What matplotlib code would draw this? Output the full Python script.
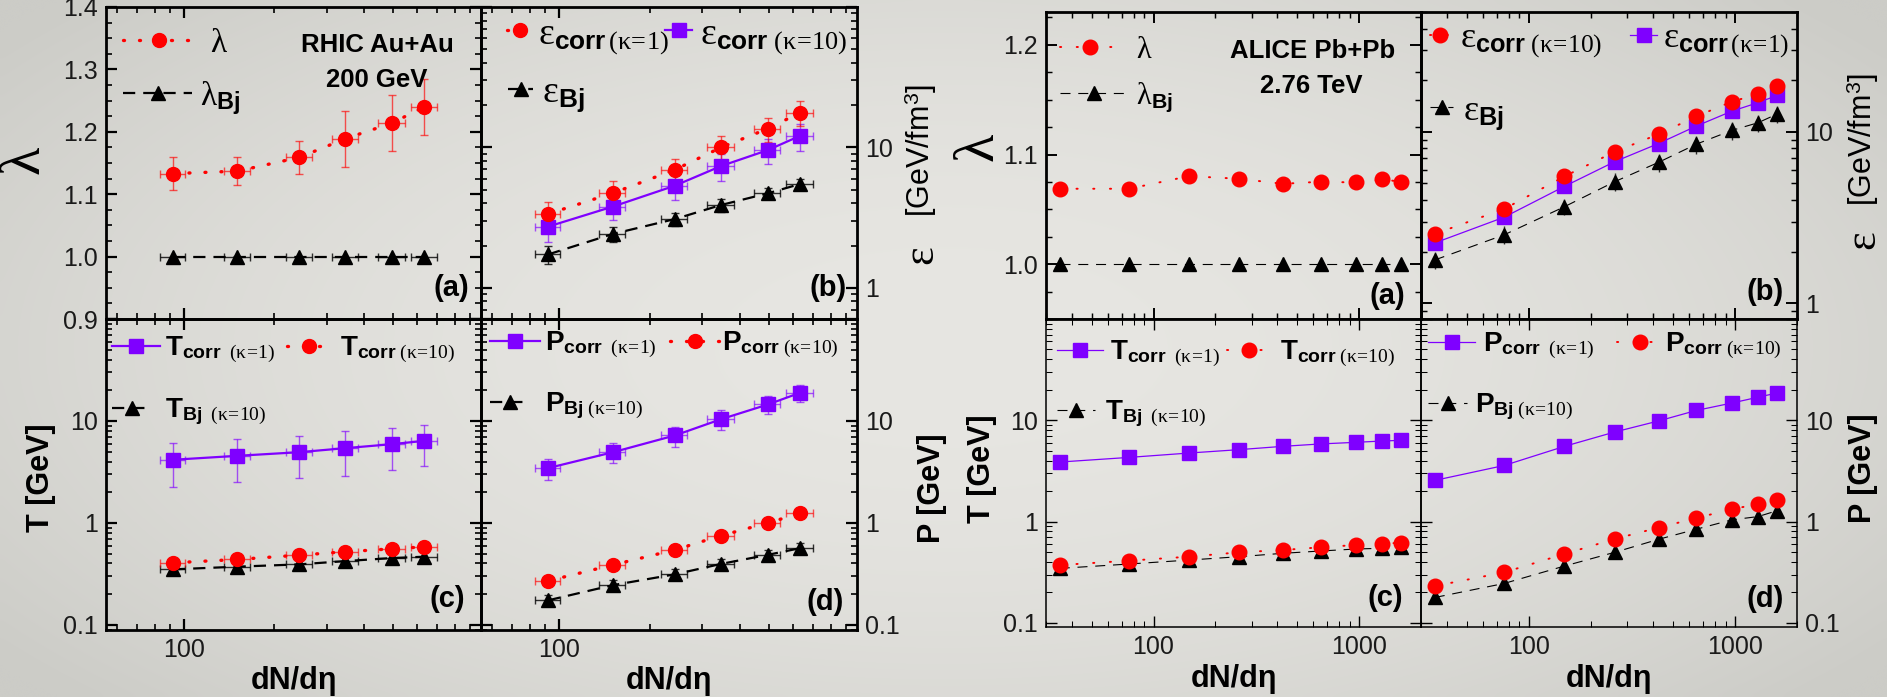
import numpy as np
import matplotlib
matplotlib.use("Agg")
import matplotlib.pyplot as plt
from matplotlib.lines import Line2D
from matplotlib.legend import Legend
from matplotlib.ticker import (LogLocator, NullFormatter, MultipleLocator,
                               FixedLocator, FixedFormatter)

plt.rcParams['font.family'] = ['Liberation Sans', 'DejaVu Sans']
plt.rcParams['mathtext.fontset'] = 'custom'
plt.rcParams['mathtext.rm'] = 'Liberation Serif'
plt.rcParams['mathtext.it'] = 'Liberation Serif:italic'
plt.rcParams['mathtext.bf'] = 'Liberation Sans:bold'
plt.rcParams['mathtext.sf'] = 'Liberation Sans'

# ---------------- data : RHIC Au+Au 200 GeV ----------------
rhic_dndeta = [92, 151, 243, 346, 495, 634]
rhic_dndeta_err = [9, 15, 24, 35, 50, 63]
rhic_lambda = [1.133, 1.137, 1.159, 1.189, 1.214, 1.240]
rhic_lambda_err = [0.026, 0.023, 0.026, 0.045, 0.045, 0.045]
rhic_lambda_bj = [1.0, 1.0, 1.0, 1.0, 1.0, 1.0]
rhic_eps_corr_k1 = [3.36, 4.73, 6.94, 10.0, 13.6, 17.7]
rhic_eps_corr_k1_err = [0.7, 1.0, 1.3, 2.0, 2.7, 3.6]
rhic_eps_corr_k10 = [2.73, 3.79, 5.34, 7.37, 9.57, 12.1]
rhic_eps_corr_k10_err = [0.6, 0.75, 1.1, 1.6, 2.0, 2.6]
rhic_eps_bj = [1.73, 2.42, 3.09, 3.89, 4.71, 5.49]
rhic_eps_bj_err = [0.25, 0.3, 0.35, 0.4, 0.45, 0.5]
rhic_T_corr_k1 = [4.16, 4.55, 4.94, 5.41, 5.92, 6.38]
rhic_T_corr_k1_err = [1.9, 2.05, 2.2, 2.5, 2.65, 2.8]
rhic_T_corr_k10 = [0.406, 0.438, 0.483, 0.521, 0.557, 0.582]
rhic_T_corr_k10_err = [0.03, 0.03, 0.035, 0.04, 0.04, 0.045]
rhic_T_bj = [0.35, 0.372, 0.392, 0.422, 0.452, 0.466]
rhic_T_bj_err = [0.04, 0.04, 0.045, 0.05, 0.05, 0.055]
rhic_P_corr_k1 = [3.45, 4.93, 7.21, 10.4, 14.5, 18.9]
rhic_P_corr_k1_err = [0.83, 1.1, 1.6, 2.3, 2.9, 3.7]
rhic_P_corr_k10 = [0.27, 0.387, 0.544, 0.75, 1.0, 1.24]
rhic_P_corr_k10_err = [0.02, 0.03, 0.04, 0.06, 0.08, 0.1]
rhic_P_bj = [0.174, 0.245, 0.313, 0.396, 0.486, 0.565]
rhic_P_bj_err = [0.02, 0.03, 0.04, 0.05, 0.06, 0.07]

# ---------------- data : ALICE Pb+Pb 2.76 TeV ----------------
alice_dndeta = [35, 76, 149, 261, 426, 649, 966, 1294, 1601]
alice_lambda = [1.0688, 1.0688, 1.0803, 1.0779, 1.0733, 1.0752, 1.0745, 1.0773, 1.0752]
alice_lambda_bj = [1.0, 1.0, 1.0, 1.0, 1.0, 1.0, 1.0, 1.0, 1.0]
alice_eps_corr_k10 = [2.54, 3.55, 5.5, 7.65, 9.69, 12.3, 15.0, 16.6, 18.5]
alice_eps_corr_k1 = [2.25, 3.18, 4.81, 6.7, 8.55, 10.8, 13.2, 14.8, 16.3]
alice_eps_bj = [1.79, 2.51, 3.66, 5.12, 6.64, 8.47, 10.2, 11.3, 12.7]
alice_eps_bj_err = [0.2, 0.3, 0.4, 0.6, 0.8, 1.0, 1.2, 1.3, 1.5]
alice_T_corr_k1 = [3.87, 4.3, 4.75, 5.13, 5.53, 5.84, 6.06, 6.24, 6.34]
alice_T_corr_k10 = [0.372, 0.411, 0.45, 0.497, 0.524, 0.557, 0.587, 0.601, 0.62]
alice_T_bj = [0.345, 0.381, 0.417, 0.45, 0.486, 0.512, 0.536, 0.545, 0.557]
alice_T_bj_err = [0.04, 0.045, 0.05, 0.05, 0.055, 0.06, 0.06, 0.065, 0.065]
alice_P_corr_k1 = [2.55, 3.58, 5.53, 7.66, 9.85, 12.5, 14.8, 16.9, 18.6]
alice_P_corr_k10 = [0.231, 0.315, 0.479, 0.673, 0.872, 1.08, 1.33, 1.48, 1.64]
alice_P_bj = [0.178, 0.245, 0.364, 0.497, 0.668, 0.84, 1.04, 1.12, 1.28]
alice_P_bj_err = [0.02, 0.03, 0.04, 0.06, 0.08, 0.1, 0.12, 0.13, 0.15]

# legend labels
L_LAM = r"$\mathrm{\lambda}$"
L_LAM_BJ = r"$\mathrm{\lambda}_{\mathbf{Bj}}$"
L_EPS_K1 = r"$\mathrm{\varepsilon}_{\mathbf{corr}\,\mathrm{(\kappa\!=\!1)}}$"
L_EPS_K10 = r"$\mathrm{\varepsilon}_{\mathbf{corr}\ \mathrm{(\kappa\!=\!10)}}$"
L_EPS_BJ = r"$\mathrm{\varepsilon}_{\mathbf{Bj}}$"
L_T_K1 = r"$\mathbf{T}_{\mathbf{corr}\ \ \mathrm{(\kappa\!=\!1)}}$"
L_T_K10 = r"$\mathbf{T}_{\mathbf{corr}\ \mathrm{(\kappa\!=\!10)}}$"
L_T_BJ = r"$\mathbf{T}_{\mathbf{Bj}\ \ \mathrm{(\kappa\!=\!10)}}$"
L_P_K1 = r"$\mathbf{P}_{\mathbf{corr}\ \ \mathrm{(\kappa\!=\!1)}}$"
L_P_K10 = r"$\mathbf{P}_{\mathbf{corr}\ \mathrm{(\kappa\!=\!10)}}$"
L_P_BJ = r"$\mathbf{P}_{\mathbf{Bj}\ \mathrm{(\kappa\!=\!10)}}$"

# ---------------- styles ----------------
RED = '#ff0000'
PURPLE = '#7f00ff'
BLACK = '#000000'
W, H = 1887, 697

STY_L = {
    'red': dict(color=RED, marker='o', ms=10, ls=(0, (0.3, 4.5)), lw=2.4,
                dash_capstyle='round', mec=RED),
    'purple': dict(color=PURPLE, marker='s', ms=9.5, ls='-', lw=1.6, mec=PURPLE),
    'black': dict(color=BLACK, marker='^', ms=10.5, ls=(0, (5.5, 3.6)), lw=1.6, mec=BLACK),
}
STY_R = {
    'red': dict(color=RED, marker='o', ms=10.5, ls=(0, (0.6, 8)), lw=1.4,
                dash_capstyle='round', mec=RED),
    'purple': dict(color=PURPLE, marker='s', ms=9.5, ls='-', lw=0.9, mec=PURPLE),
    'black': dict(color=BLACK, marker='^', ms=10.5, ls=(0, (9, 7)), lw=0.8, mec=BLACK),
}
ECOL = {'red': (1, 0, 0, 0.65), 'purple': (0.5, 0, 1, 0.65), 'black': (0, 0, 0, 0.8)}

fig = plt.figure(figsize=(W / 100, H / 100), dpi=100)

# subtle grey vignette background
bg = fig.add_axes([0, 0, 1, 1], zorder=-10)
yy, xx = np.mgrid[0:1:120j, 0:1:320j]
r2 = ((xx - 0.5) / 0.62) ** 2 + ((yy - 0.5) / 0.75) ** 2
c_in = np.array([231, 230, 226]) / 255.0
c_out = np.array([204, 204, 199]) / 255.0
img = c_in[None, None, :] + (c_out - c_in)[None, None, :] * np.clip(r2, 0, 1)[..., None]
bg.imshow(img, extent=[0, 1, 0, 1], aspect='auto', interpolation='bicubic')
bg.axis('off')


def pxbox(x0, y0, x1, y1):
    return [x0 / W, 1 - y1 / H, (x1 - x0) / W, (y1 - y0) / H]


def fx(x):
    return x / W


def fy(y):
    return 1 - y / H


axL_a = fig.add_axes(pxbox(106, 7, 481, 319))
axL_b = fig.add_axes(pxbox(481, 7, 857, 319))
axL_c = fig.add_axes(pxbox(106, 319, 481, 630))
axL_d = fig.add_axes(pxbox(481, 319, 857, 630))
axR_a = fig.add_axes(pxbox(1046, 12, 1421, 319))
axR_b = fig.add_axes(pxbox(1421, 12, 1797, 319))
axR_c = fig.add_axes(pxbox(1046, 319, 1421, 627))
axR_d = fig.add_axes(pxbox(1421, 319, 1797, 627))


def style_axes(ax, spine_lw, tick_w):
    ax.set_facecolor('none')
    for s in ax.spines.values():
        s.set_linewidth(spine_lw)
    ax.tick_params(which='both', direction='in', top=True, right=True,
                   left=True, bottom=True, labelsize=18, pad=6,
                   labelcolor='#1a1a1a')
    ax.tick_params(which='major', length=8, width=tick_w)
    ax.tick_params(which='minor', length=4, width=tick_w * 0.75)


def log_x(ax, lim, ticks, show):
    ax.set_xscale('log')
    ax.set_xlim(*lim)
    ax.xaxis.set_major_locator(FixedLocator(ticks))
    ax.xaxis.set_major_formatter(FixedFormatter([str(t) for t in ticks]))
    ax.xaxis.set_minor_locator(LogLocator(base=10, subs=np.arange(2, 10), numticks=20))
    ax.xaxis.set_minor_formatter(NullFormatter())
    ax.tick_params(axis='x', labelbottom=show)


def log_y(ax, lim, ticks, labels):
    ax.set_yscale('log')
    ax.set_ylim(*lim)
    ax.yaxis.set_major_locator(FixedLocator(ticks))
    ax.yaxis.set_major_formatter(FixedFormatter(labels))
    ax.yaxis.set_minor_locator(LogLocator(base=10, subs=np.arange(2, 10), numticks=20))
    ax.yaxis.set_minor_formatter(NullFormatter())


def series(ax, sty, key, x, y, yerr=None, xerr=None, capsize=3):
    ax.errorbar(x, y, yerr=yerr, xerr=xerr, ecolor=ECOL[key], elinewidth=1.0,
                capsize=capsize if (yerr is not None or xerr is not None) else 0,
                capthick=1.0, **sty[key])


def entry(ax, sty, key, label, x0, x1, y, tx, fs):
    fs_px = fs * 100 / 72.0
    h = Line2D([], [], **sty[key])
    leg = Legend(ax, [h], [label], loc='center left',
                 bbox_to_anchor=(fx(x0), fy(y)), bbox_transform=fig.transFigure,
                 frameon=False, fontsize=fs, handlelength=(x1 - x0) / fs_px,
                 handletextpad=(tx - x1) / fs_px, borderpad=0, borderaxespad=0,
                 numpoints=1)
    ax.add_artist(leg)


# ================= LEFT GROUP (RHIC) =================
for ax in (axL_a, axL_b, axL_c, axL_d):
    style_axes(ax, 2.0, 1.6)

# (a) lambda
ax = axL_a
series(ax, STY_L, 'black', rhic_dndeta, rhic_lambda_bj, xerr=rhic_dndeta_err)
series(ax, STY_L, 'red', rhic_dndeta, rhic_lambda, yerr=rhic_lambda_err, xerr=rhic_dndeta_err)
log_x(ax, (55, 980), [100], False)
ax.set_ylim(0.9, 1.4)
ax.yaxis.set_major_locator(FixedLocator([0.9, 1.0, 1.1, 1.2, 1.3, 1.4]))
ax.yaxis.set_major_formatter(FixedFormatter(['0.9', '1.0', '1.1', '1.2', '1.3', '1.4']))
ax.yaxis.set_minor_locator(MultipleLocator(0.025))
entry(ax, STY_L, 'red', L_LAM, 123, 195, 43, 210, 24)
entry(ax, STY_L, 'black', L_LAM_BJ, 123, 192, 98, 200, 24)

# (b) energy density
ax = axL_b
series(ax, STY_L, 'black', rhic_dndeta, rhic_eps_bj, yerr=rhic_eps_bj_err, xerr=rhic_dndeta_err)
series(ax, STY_L, 'purple', rhic_dndeta, rhic_eps_corr_k10, yerr=rhic_eps_corr_k10_err, xerr=rhic_dndeta_err)
series(ax, STY_L, 'red', rhic_dndeta, rhic_eps_corr_k1, yerr=rhic_eps_corr_k1_err, xerr=rhic_dndeta_err)
log_x(ax, (55, 980), [100], False)
log_y(ax, (0.6, 100), [1, 10, 100], ['1', '10', ''])
ax.tick_params(axis='y', labelleft=False, labelright=True)
entry(ax, STY_L, 'red', L_EPS_K1, 507, 533, 36, 538, 27)
entry(ax, STY_L, 'purple', L_EPS_K10, 665, 692, 36, 700, 27)
entry(ax, STY_L, 'black', L_EPS_BJ, 508, 533, 94, 542, 27)

# (c) temperature
ax = axL_c
series(ax, STY_L, 'black', rhic_dndeta, rhic_T_bj, yerr=rhic_T_bj_err, xerr=rhic_dndeta_err)
series(ax, STY_L, 'purple', rhic_dndeta, rhic_T_corr_k1, yerr=rhic_T_corr_k1_err, xerr=rhic_dndeta_err)
series(ax, STY_L, 'red', rhic_dndeta, rhic_T_corr_k10, yerr=rhic_T_corr_k10_err, xerr=rhic_dndeta_err)
log_x(ax, (55, 980), [100], True)
log_y(ax, (0.089, 100), [0.1, 1, 10, 100], ['0.1', '1', '10', ''])
entry(ax, STY_L, 'purple', L_T_K1, 112, 160, 350, 165, 20)
entry(ax, STY_L, 'red', L_T_K10, 287, 330, 350, 340, 20)
entry(ax, STY_L, 'black', L_T_BJ, 112, 152, 412, 165, 20)

# (d) pressure
ax = axL_d
series(ax, STY_L, 'black', rhic_dndeta, rhic_P_bj, yerr=rhic_P_bj_err, xerr=rhic_dndeta_err)
series(ax, STY_L, 'purple', rhic_dndeta, rhic_P_corr_k1, yerr=rhic_P_corr_k1_err, xerr=rhic_dndeta_err)
series(ax, STY_L, 'red', rhic_dndeta, rhic_P_corr_k10, yerr=rhic_P_corr_k10_err, xerr=rhic_dndeta_err)
log_x(ax, (55, 980), [100], True)
log_y(ax, (0.089, 100), [0.1, 1, 10, 100], ['0.1', '1', '10', ''])
ax.tick_params(axis='y', labelleft=False, labelright=True)
entry(ax, STY_L, 'purple', L_P_K1, 490, 540, 345, 545, 20)
entry(ax, STY_L, 'red', L_P_K10, 670, 720, 345, 722, 20)
entry(ax, STY_L, 'black', L_P_BJ, 490, 530, 406, 545, 20)

# ================= RIGHT GROUP (ALICE) =================
for ax in (axR_a, axR_b):
    style_axes(ax, 2.0, 1.4)
for ax in (axR_c, axR_d):
    style_axes(ax, 1.1, 1.0)

ax = axR_a
series(ax, STY_R, 'black', alice_dndeta, alice_lambda_bj)
series(ax, STY_R, 'red', alice_dndeta, alice_lambda)
log_x(ax, (30, 2000), [100, 1000], False)
ax.set_ylim(0.95, 1.23)
ax.yaxis.set_major_locator(FixedLocator([1.0, 1.1, 1.2]))
ax.yaxis.set_major_formatter(FixedFormatter(['1.0', '1.1', '1.2']))
ax.yaxis.set_minor_locator(MultipleLocator(0.025))
entry(ax, STY_R, 'red', L_LAM, 1060, 1120, 50, 1136, 22)
entry(ax, STY_R, 'black', L_LAM_BJ, 1060, 1127, 97, 1136, 22)

ax = axR_b
series(ax, STY_R, 'black', alice_dndeta, alice_eps_bj, yerr=alice_eps_bj_err, capsize=0)
series(ax, STY_R, 'purple', alice_dndeta, alice_eps_corr_k1)
series(ax, STY_R, 'red', alice_dndeta, alice_eps_corr_k10)
log_x(ax, (30, 2000), [100, 1000], False)
log_y(ax, (0.81, 50), [1, 10], ['1', '10'])
ax.tick_params(axis='y', labelleft=False, labelright=True)
entry(ax, STY_R, 'red', L_EPS_K10, 1430, 1450, 40, 1460, 26)
entry(ax, STY_R, 'purple', L_EPS_K1, 1630, 1657, 40, 1663, 26)
entry(ax, STY_R, 'black', L_EPS_BJ, 1430, 1453, 112, 1463, 26)

ax = axR_c
series(ax, STY_R, 'black', alice_dndeta, alice_T_bj, yerr=alice_T_bj_err, capsize=0)
series(ax, STY_R, 'purple', alice_dndeta, alice_T_corr_k1)
series(ax, STY_R, 'red', alice_dndeta, alice_T_corr_k10)
log_x(ax, (30, 2000), [100, 1000], True)
log_y(ax, (0.091, 100), [0.1, 1, 10, 100], ['0.1', '1', '10', ''])
entry(ax, STY_R, 'purple', L_T_K1, 1057, 1103, 354, 1110, 20)
entry(ax, STY_R, 'red', L_T_K10, 1227, 1270, 354, 1280, 20)
entry(ax, STY_R, 'black', L_T_BJ, 1057, 1095, 414, 1105, 20)

ax = axR_d
series(ax, STY_R, 'black', alice_dndeta, alice_P_bj, yerr=alice_P_bj_err, capsize=0)
series(ax, STY_R, 'purple', alice_dndeta, alice_P_corr_k1)
series(ax, STY_R, 'red', alice_dndeta, alice_P_corr_k10)
log_x(ax, (30, 2000), [100, 1000], True)
log_y(ax, (0.091, 100), [0.1, 1, 10, 100], ['0.1', '1', '10', ''])
ax.tick_params(axis='y', labelleft=False, labelright=True)
entry(ax, STY_R, 'purple', L_P_K1, 1428, 1475, 346, 1483, 20)
entry(ax, STY_R, 'red', L_P_K10, 1617, 1663, 346, 1665, 20)
entry(ax, STY_R, 'black', L_P_BJ, 1428, 1467, 407, 1475, 20)

# x labels
for ax in (axL_c, axL_d, axR_c, axR_d):
    ax.set_xlabel('dN/dη', fontsize=22, fontweight='bold', labelpad=3)

# y labels (figure text)
UNIT_LABEL = r'[GeV/fm$^{\mathsf{3}}$]'
fig.text(fx(24), fy(160), 'λ', rotation=90, fontsize=42, family='Liberation Serif',
         ha='center', va='center')
fig.text(fx(41), fy(478), 'T [GeV]', rotation=90, fontsize=22, fontweight='bold',
         ha='center', va='center')
fig.text(fx(921), fy(255), 'ε', rotation=90, fontsize=32, family='Liberation Serif',
         ha='center', va='center')
fig.text(fx(921), fy(150), UNIT_LABEL, rotation=90, fontsize=22, ha='center', va='center')
fig.text(fx(932), fy(488), 'P [GeV]', rotation=90, fontsize=22, fontweight='bold',
         ha='center', va='center')
fig.text(fx(978), fy(147), 'λ', rotation=90, fontsize=42, family='Liberation Serif',
         ha='center', va='center')
fig.text(fx(982), fy(469), 'T [GeV]', rotation=90, fontsize=22, fontweight='bold',
         ha='center', va='center')
fig.text(fx(1863), fy(240), 'ε', rotation=90, fontsize=32, family='Liberation Serif',
         ha='center', va='center')
fig.text(fx(1863), fy(139), UNIT_LABEL, rotation=90, fontsize=22, ha='center', va='center')
fig.text(fx(1863), fy(468), 'P [GeV]', rotation=90, fontsize=22, fontweight='bold',
         ha='center', va='center')

# annotations
fig.text(fx(377), fy(52), 'RHIC Au+Au', fontsize=18.5, fontweight='bold', ha='center', va='baseline')
fig.text(fx(377), fy(87), '200 GeV', fontsize=18.5, fontweight='bold', ha='center', va='baseline')
fig.text(fx(1313), fy(58), 'ALICE Pb+Pb', fontsize=18.5, fontweight='bold', ha='center', va='baseline')
fig.text(fx(1311), fy(93), '2.76 TeV', fontsize=18.5, fontweight='bold', ha='center', va='baseline')

for (px, py, s) in [(451, 296, '(a)'), (828, 296, '(b)'), (447, 607, '(c)'), (825, 610, '(d)'),
                    (1387, 304, '(a)'), (1765, 300, '(b)'), (1385, 606, '(c)'), (1765, 607, '(d)')]:
    fig.text(fx(px), fy(py), s, fontsize=21, fontweight='bold', ha='center', va='baseline')

fig.savefig('out.png', dpi=100)
